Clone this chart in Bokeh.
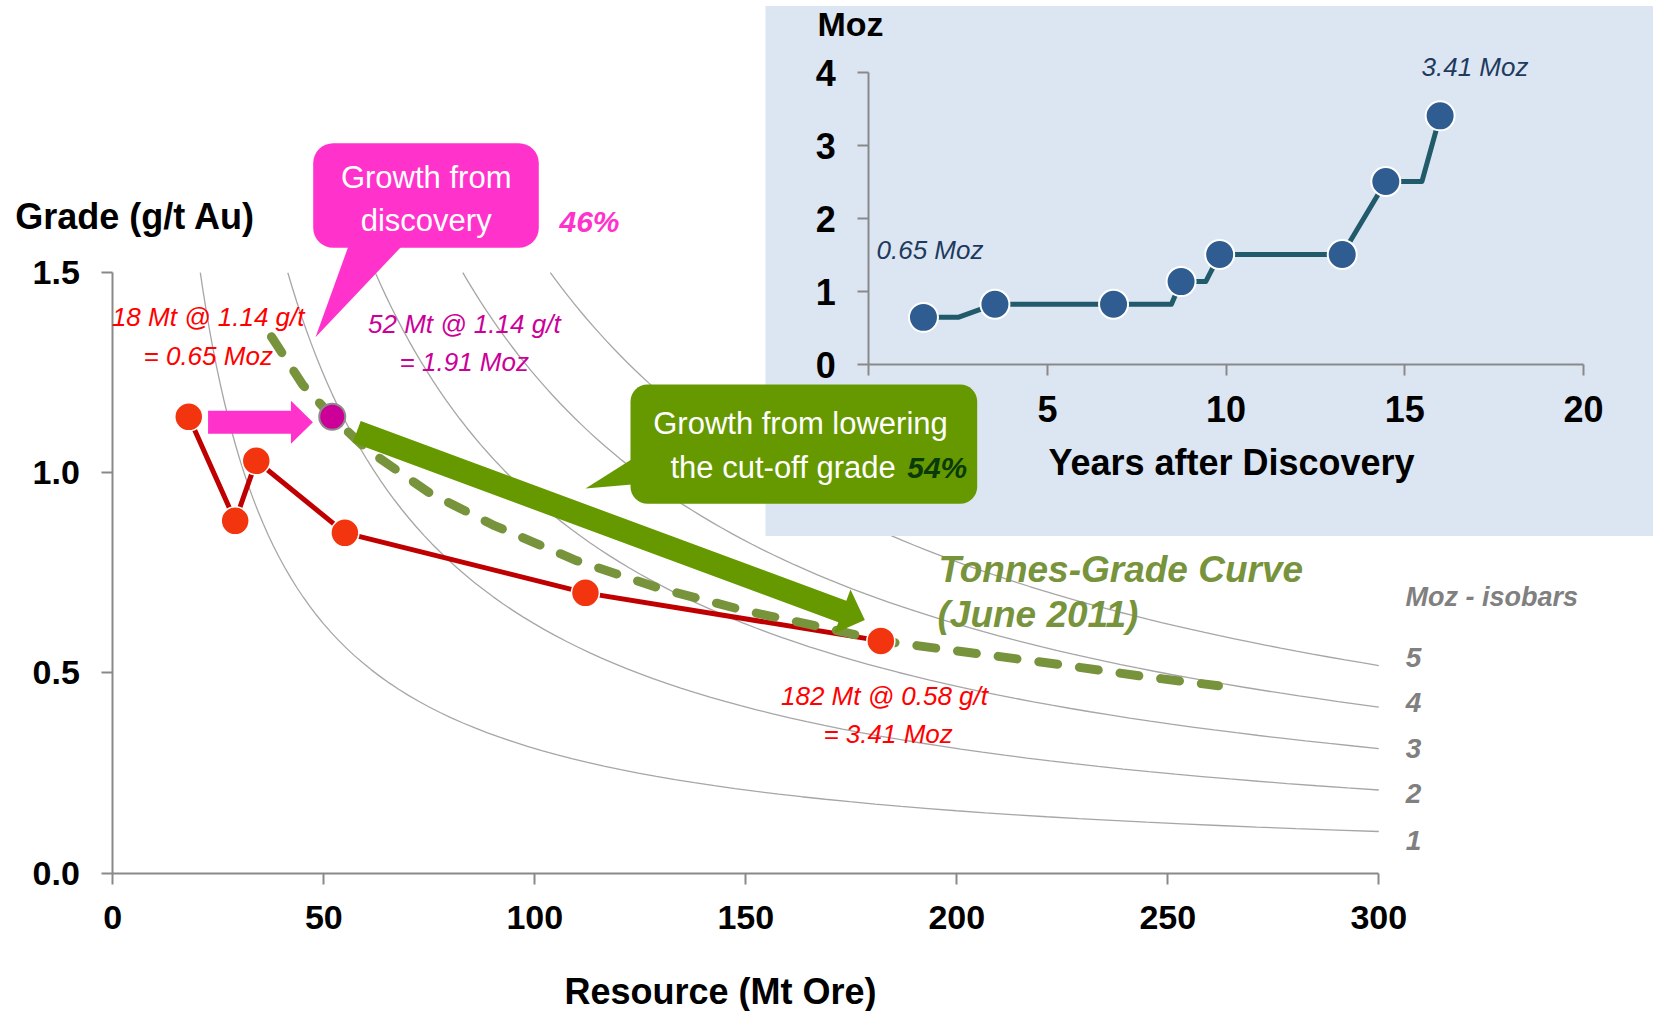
import math
from bokeh.plotting import figure
from bokeh.models import (Range1d, LinearAxis, FixedTicker, NumeralTickFormatter,
                          Label, BoxAnnotation)
from bokeh.embed import file_html
from bokeh.resources import INLINE

# --- resource growth path: tonnage (Mt) vs grade (g/t Au) ---
res_mt = [18, 29, 34, 55, 112, 182]
res_grade = [1.14, 0.88, 1.03, 0.85, 0.70, 0.58]

# discovery-stage resource
disc_mt = [52]
disc_grade = [1.14]

# tonnes-grade curve (June 2011)
tg_mt = [37.6, 45, 52, 60, 75, 90, 110, 130, 150, 170, 182, 200, 225, 245, 262]
tg_grade = [1.34, 1.22, 1.14, 1.06, 0.95, 0.87, 0.78, 0.71, 0.655, 0.61, 0.58,
            0.555, 0.52, 0.49, 0.468]

# contained-gold isobars (Moz)
isobar_moz = [1, 2, 3, 4, 5]
GRAMS_PER_OZ = 31.1035

# x / y tick values
x_ticks = [0, 50, 100, 150, 200, 250, 300]
y_ticks = [0.0, 0.5, 1.0, 1.5]

# --- inset: resource (Moz) vs years after discovery ---
yrs_pts = [1.53, 3.53, 6.85, 8.74, 9.82, 13.25, 14.47, 15.99]
moz_pts = [0.65, 0.83, 0.83, 1.14, 1.51, 1.51, 2.51, 3.41]
yrs_path = [1.53, 2.5, 3.53, 6.85, 8.47, 8.74, 9.43, 9.82, 13.25, 14.47, 15.48, 15.99]
moz_path = [0.65, 0.65, 0.83, 0.83, 0.83, 1.14, 1.14, 1.51, 1.51, 2.51, 2.51, 3.41]
yrs_ticks = [0, 5, 10, 15, 20]
moz_ticks = [0, 1, 2, 3, 4]

# ---------------------------------------------------------------------------
W, H = 1653, 1011
REG = "Liberation Sans"
AXIS_GREY = "#898989"

# main plot: axis origin and extents in canvas pixels
X0, X1 = 112.3, 1378.3          # 0 Mt .. 300 Mt
Y0, Y1 = 872.5, 272.2           # 0.0 .. 1.5 g/t
sx = (X1 - X0) / 300.0
sy = (Y0 - Y1) / 1.5
XS, XE = -X0 / sx, (W - X0) / sx
YE, YS = Y0 / sy, -(H - Y0) / sy

# inset: origin and extents in canvas pixels
IX0, IX1 = 868.3, 1582.9        # 0 .. 20 years
IY0, IY1 = 364.3, 72.3          # 0 .. 4 Moz
isx = (IX1 - IX0) / 20.0
isy = (IY0 - IY1) / 4.0


def gx(px):
    return XS + px / W * (XE - XS)


def gy(py):
    return YE - py / H * (YE - YS)


def to_px(x, y):
    return X0 + x * sx, Y0 - y * sy


p = figure(width=W, height=H, x_range=Range1d(XS, XE), y_range=Range1d(YS, YE),
           x_axis_type=None, y_axis_type=None, toolbar_location=None,
           output_backend="svg", min_border=0, title=None,
           outline_line_color=None, background_fill_color="white",
           border_fill_color="white")
p.extra_x_ranges = {"yrs": Range1d(-IX0 / isx, (W - IX0) / isx)}
p.extra_y_ranges = {"moz": Range1d(-(H - IY0) / isy, IY0 / isy)}


def style_axis(ax, size, standoff):
    ax.axis_line_color = AXIS_GREY
    ax.axis_line_width = 2
    ax.major_tick_line_color = AXIS_GREY
    ax.major_tick_line_width = 2
    ax.major_tick_in = 0
    ax.major_tick_out = 11
    ax.minor_tick_line_color = None
    ax.major_label_text_font = REG
    ax.major_label_text_font_style = "bold"
    ax.major_label_text_font_size = size
    ax.major_label_text_color = "black"
    ax.major_label_standoff = standoff


# isobars: grade = Moz * 31.1035 / Mt, from the top of the grade axis to 300 Mt
for moz in isobar_moz:
    t_start = moz * GRAMS_PER_OZ / 1.5
    n = 80
    ts = [t_start * (300.0 / t_start) ** (i / (n - 1)) for i in range(n)]
    gs = [moz * GRAMS_PER_OZ / t for t in ts]
    p.line(ts, gs, line_color="#A6A6A6", line_width=1.3)

# inset background panel
p.quad(left=gx(765), right=gx(W + 5), top=gy(5.5), bottom=gy(535.5),
       fill_color="#DCE6F2", line_color=None)

# resource growth path and tonnes-grade curve
p.line(res_mt, res_grade, line_color="#C00000", line_width=5, line_join="round")
p.line(tg_mt, tg_grade, line_color="#77933C", line_width=9, line_dash="19 22",
       line_cap="round")


def arrow_patch(x0, y0, x1, y1, shaft, head_len, head_w, color):
    dx, dy = x1 - x0, y1 - y0
    L = math.hypot(dx, dy)
    ux, uy = dx / L, dy / L
    nx, ny = -uy, ux
    bx, by = x1 - ux * head_len, y1 - uy * head_len
    pts = [(x0 + nx * shaft / 2, y0 + ny * shaft / 2),
           (bx + nx * shaft / 2, by + ny * shaft / 2),
           (bx + nx * head_w / 2, by + ny * head_w / 2),
           (x1, y1),
           (bx - nx * head_w / 2, by - ny * head_w / 2),
           (bx - nx * shaft / 2, by - ny * shaft / 2),
           (x0 - nx * shaft / 2, y0 - ny * shaft / 2)]
    p.patch([gx(a) for a, _ in pts], [gy(b) for _, b in pts],
            fill_color=color, line_color=None)


# pink arrow: first estimate -> discovery estimate
ax0, ay0 = to_px(res_mt[0], res_grade[0])
bx0, by0 = to_px(disc_mt[0], disc_grade[0])
arrow_patch(ax0 + 19.3, ay0 + 5.4, bx0 - 19.3, by0 + 5.4, 23, 22, 43, "#FF33CC")

# green arrow: discovery estimate -> lowered cut-off resource
ex, ey = to_px(res_mt[-1], res_grade[-1])
arrow_patch(bx0 + 24.5, by0 + 15, ex - 16, ey - 21, 23, 24, 47, "#669900")

# callout tails
p.patch([gx(350), gx(406.7), gx(315)], [gy(240), gy(240), gy(336.7)],
        fill_color="#FF33CC", line_color=None)
p.patch([gx(640), gx(640), gx(585)], [gy(453.3), gy(483.3), gy(488)],
        fill_color="#669900", line_color=None)

# markers
p.scatter(res_mt, res_grade, size=28, fill_color="#F2350F", line_color="white",
          line_width=1.5)
p.scatter(disc_mt, disc_grade, size=26, fill_color="#CC0099", line_color="#8C8C8C",
          line_width=2)

# inset step path and markers
p.line(yrs_path, moz_path, x_range_name="yrs", y_range_name="moz",
       line_color="#215A6A", line_width=5, line_join="round")
p.scatter(yrs_pts, moz_pts, x_range_name="yrs", y_range_name="moz", size=29,
          fill_color="#2F5D91", line_color="white", line_width=2)

# axes
xa = LinearAxis(fixed_location=0, bounds=(0, 300), ticker=FixedTicker(ticks=x_ticks))
style_axis(xa, "34px", 22)
p.add_layout(xa, "below")

ya = LinearAxis(fixed_location=0, bounds=(0, 1.5), ticker=FixedTicker(ticks=y_ticks),
                formatter=NumeralTickFormatter(format="0.0"))
style_axis(ya, "34px", 22)
p.add_layout(ya, "left")

ixa = LinearAxis(x_range_name="yrs", y_range_name="moz", fixed_location=0,
                 bounds=(0, 20), ticker=FixedTicker(ticks=yrs_ticks),
                 major_label_overrides={0: ""})
style_axis(ixa, "36px", 20)
p.add_layout(ixa, "below")

iya = LinearAxis(x_range_name="yrs", y_range_name="moz", fixed_location=0,
                 bounds=(0, 4), ticker=FixedTicker(ticks=moz_ticks))
style_axis(iya, "36px", 22)
p.add_layout(iya, "left")

# callout boxes
p.add_layout(BoxAnnotation(left=gx(312.7), right=gx(538.3), top=gy(142.7),
                           bottom=gy(247.3), fill_color="#FF33CC", fill_alpha=1,
                           line_color=None, border_radius=20))
p.add_layout(BoxAnnotation(left=gx(630), right=gx(976.7), top=gy(384),
                           bottom=gy(503.3), fill_color="#669900", fill_alpha=1,
                           line_color=None, border_radius=17))


def label(px, py, text, color="black", size="26px", style="normal", align="center"):
    p.add_layout(Label(x=gx(px), y=gy(py), text=text, text_color=color,
                       text_font=REG, text_font_size=size, text_font_style=style,
                       text_align=align, text_baseline="middle"))


# axis titles
label(14.8, 216, "Grade (g/t Au)", size="36px", style="bold", align="left")
label(720, 991, "Resource (Mt Ore)", size="36px", style="bold")
label(817, 23, "Moz", size="34px", style="bold", align="left")
label(1231, 462, "Years after Discovery", size="36px", style="bold")

# callout texts
label(425.7, 176.7, "Growth from", color="white", size="31px")
label(425.7, 220, "discovery", color="white", size="31px")
label(559, 221, "46%", color="#FF33CC", size="30px", style="bold italic", align="left")
label(800, 423.3, "Growth from lowering", color="white", size="31px")
label(670, 466.7, "the cut-off grade", color="white", size="31px", align="left")
label(906.7, 466.7, "54%", color="#0A3A0A", size="30px", style="bold italic",
      align="left")

# point annotations
label(207.7, 316, f"{res_mt[0]} Mt @ {res_grade[0]:.2f} g/t", color="#FF0000",
      style="italic")
label(207.7, 355, "= 0.65 Moz", color="#FF0000", style="italic")
label(463.8, 323.6, f"{disc_mt[0]} Mt @ {disc_grade[0]:.2f} g/t", color="#CC0099",
      style="italic")
label(463.8, 361.6, "= 1.91 Moz", color="#CC0099", style="italic")
label(887.6, 695.8, f"{res_mt[-1]} Mt  @ {res_grade[-1]:.2f} g/t", color="#FF0000",
      style="italic")
label(887.6, 733.7, "= 3.41 Moz", color="#FF0000", style="italic")

label(938, 569.3, "Tonnes-Grade Curve", color="#77933C", size="37px",
      style="bold italic", align="left")
label(937, 613.5, "(June 2011)", color="#77933C", size="37px", style="bold italic",
      align="left")

label(1405, 596.7, "Moz  - isobars", color="#808080", size="27px",
      style="bold italic", align="left")
for moz, py in zip(isobar_moz, [840, 793, 748, 702, 657]):
    label(1413, py, str(moz), color="#808080", size="28px", style="bold italic")

# inset annotations
label(876, 249, f"{moz_pts[0]:.2f} Moz", color="#1F3A5F", style="italic", align="left")
label(1421, 66.4, f"{moz_pts[-1]:.2f} Moz", color="#1F3A5F", style="italic",
      align="left")

open("out.html", "w").write(file_html(p, INLINE))
